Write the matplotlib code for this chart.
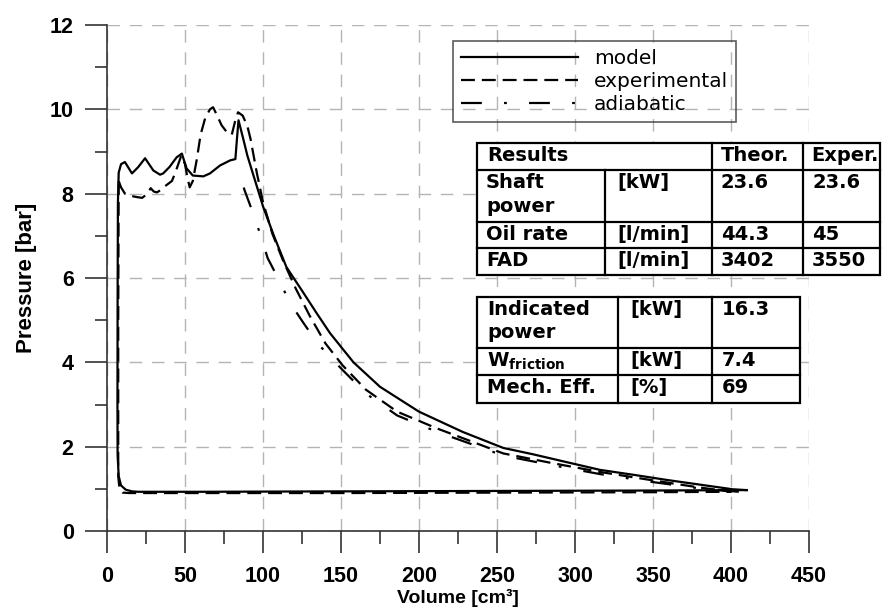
import matplotlib
matplotlib.use("Agg")
import matplotlib.pyplot as plt
from matplotlib.patches import Rectangle
from matplotlib.ticker import MultipleLocator

plt.rcParams['font.family'] = ['Liberation Sans', 'DejaVu Sans']
plt.rcParams['font.weight'] = 'bold'
plt.rcParams['lines.scale_dashes'] = False

# model cycle (volume cm3, pressure bar)
model_v = [410, 401, 380, 359, 338, 316, 295, 273, 254, 228,
           200, 175, 158, 143, 134.5, 125, 115, 107, 100, 95,
           90, 87, 84.3, 83.3, 82.3, 79, 72.5, 66, 61.7, 55,
           51, 48, 44.6, 40, 36, 34, 29.7, 24.4, 20, 16,
           11.5, 9, 7.5, 7, 6.8, 6.7, 6.8, 7.5, 9, 12,
           16, 20, 60, 150, 250, 350, 410]
model_p = [0.97, 0.99, 1.10, 1.21, 1.33, 1.45, 1.63, 1.82, 1.97, 2.35,
           2.83, 3.42, 4.00, 4.69, 5.16, 5.70, 6.26, 7.00, 7.70, 8.30,
           8.90, 9.35, 9.74, 9.30, 8.82, 8.79, 8.67, 8.48, 8.41, 8.43,
           8.60, 8.95, 8.86, 8.63, 8.48, 8.45, 8.55, 8.84, 8.63, 8.48,
           8.75, 8.70, 8.50, 7.80, 5.50, 3.00, 1.80, 1.30, 1.08, 0.98,
           0.94, 0.93, 0.93, 0.94, 0.95, 0.96, 0.97]

# experimental cycle
exp_v = [7.5, 7.2, 7.2, 8, 10, 14, 60, 150, 250, 350, 400,
         395, 380, 350, 316, 284, 254, 211, 186, 166, 151,
         140, 130, 121, 113, 106, 100, 98, 96, 94, 92,
         90, 87, 84, 82, 80, 77, 73.5, 70.5, 68, 66,
         63, 60, 57.5, 55, 53, 51.5, 50, 47.6, 43.6, 41.6,
         38, 35, 32, 30, 28, 26, 22.5, 19, 15, 11.5,
         9, 7.5]
exp_p = [8.30, 5.00, 1.30, 1.00, 0.91, 0.90, 0.90, 0.90, 0.91, 0.92, 0.93,
         0.96, 1.03, 1.20, 1.40, 1.62, 1.84, 2.44, 2.83, 3.35, 3.93,
         4.45, 5.10, 5.75, 6.40, 7.05, 7.80, 8.15, 8.50, 8.90, 9.30,
         9.60, 9.85, 9.93, 9.70, 9.40, 9.45, 9.62, 9.86, 10.05, 10.00,
         9.80, 9.40, 8.80, 8.30, 8.15, 8.40, 8.70, 8.90, 8.48, 8.30,
         8.20, 8.10, 8.03, 8.05, 8.13, 8.00, 7.90, 7.92, 7.95, 8.00,
         8.15, 8.30]

# adiabatic compression
adi_v = [405, 380, 350, 316, 284, 254, 211, 186, 166, 151,
         145, 135, 126, 117, 111, 103, 98, 94, 88, 85]
adi_p = [0.93, 1.01, 1.16, 1.35, 1.57, 1.79, 2.36, 2.74, 3.26, 3.82,
         4.05, 4.45, 4.93, 5.43, 5.90, 6.47, 7.06, 7.50, 8.10, 8.55]

results_header = ["Results", "Theor.", "Exper."]
results_rows = [["Shaft\npower", "[kW]", "23.6", "23.6"],
                ["Oil rate", "[l/min]", "44.3", "45"],
                ["FAD", "[l/min]", "3402", "3550"]]
mech_rows = [["Indicated\npower", "[kW]", "16.3"],
             [r"$\mathbf{W}_{\mathbf{friction}}$", "[kW]", "7.4"],
             ["Mech. Eff.", "[%]", "69"]]

fig = plt.figure(figsize=(8.92, 6.14), dpi=100)
ax = fig.add_axes([107 / 892, 83 / 614, 702 / 892, 506 / 614])

ax.plot(model_v, model_p, color='black', lw=1.6, label='model', zorder=4)
ax.plot(exp_v, exp_p, color='black', lw=1.6, dashes=(10, 5), label='experimental', zorder=3)
ax.plot(adi_v, adi_p, color='black', lw=1.6, dashes=(15, 16, 2, 16), label='adiabatic', zorder=3)

ax.set_xlim(0, 450)
ax.set_ylim(0, 12)
ax.xaxis.set_major_locator(MultipleLocator(50))
ax.xaxis.set_minor_locator(MultipleLocator(25))
ax.yaxis.set_major_locator(MultipleLocator(2))
ax.yaxis.set_minor_locator(MultipleLocator(1))
for s in ['top', 'right']:
    ax.spines[s].set_visible(False)
for s in ['left', 'bottom']:
    ax.spines[s].set_color('#333333')
    ax.spines[s].set_linewidth(1.2)
ax.tick_params(which='major', direction='out', length=16, width=1.2, color='#333333', labelsize=15.5)
ax.tick_params(which='minor', direction='out', length=9, width=1.2, color='#333333')
ax.tick_params(axis='y', which='major', pad=8)
ax.tick_params(axis='x', which='major', pad=9)
ax.grid(True, which='major', color='#b4b4b4', linestyle=(0, (9, 7)), lw=1.0)
ax.set_axisbelow(True)

ax.set_xlabel("Volume [cm³]", fontsize=14, fontweight='bold')
ax.set_ylabel("Pressure [bar]", fontsize=16, fontweight='bold')
ax.xaxis.set_label_coords(0.5, -0.115)
ax.yaxis.set_label_coords(-0.0997, 0.5)

leg = ax.legend(loc='upper left', bbox_to_anchor=(453 / 892, 1 - 41 / 614),
                bbox_transform=fig.transFigure, frameon=True, fancybox=False,
                edgecolor='#333333', handlelength=5.8, handletextpad=0.8,
                labelspacing=0.2, borderpad=0.4, borderaxespad=0,
                prop={'family': 'DejaVu Sans', 'weight': 'normal', 'size': 14.5})
leg.get_frame().set_facecolor('none')
leg.get_frame().set_linewidth(1.2)

# tables, drawn in figure pixel coordinates
ov = fig.add_axes([0, 0, 1, 1], zorder=5)
ov.set_xlim(0, 892)
ov.set_ylim(614, 0)
ov.axis('off')
tfont = dict(family='DejaVu Sans', weight='bold', size=14, va='top', ha='left', linespacing=1.3)

t1_x = [477, 605, 712, 803, 880]
t1_y = [143, 170, 222, 248, 275]
ov.add_patch(Rectangle((t1_x[0], t1_y[0]), t1_x[-1] - t1_x[0], t1_y[-1] - t1_y[0],
                       facecolor='white', edgecolor='black', lw=1.6))
for y in t1_y[1:-1]:
    ov.plot([t1_x[0], t1_x[-1]], [y, y], color='black', lw=1.6)
ov.plot([t1_x[1], t1_x[1]], [t1_y[1], t1_y[-1]], color='black', lw=1.6)
for x in t1_x[2:-1]:
    ov.plot([x, x], [t1_y[0], t1_y[-1]], color='black', lw=1.6)
ov.text(t1_x[0] + 10, t1_y[0] + 3, results_header[0], **tfont)
ov.text(t1_x[2] + 9, t1_y[0] + 3, results_header[1], **tfont)
ov.text(t1_x[3] + 8, t1_y[0] + 3, results_header[2], **tfont)
for i, row in enumerate(results_rows):
    for j, cell in enumerate(row):
        ov.text(t1_x[j] + (12 if j == 1 else 9), t1_y[i + 1] + 3, cell, **tfont)

t2_x = [477, 618, 712, 800]
t2_y = [297, 348, 375, 403]
ov.add_patch(Rectangle((t2_x[0], t2_y[0]), t2_x[-1] - t2_x[0], t2_y[-1] - t2_y[0],
                       facecolor='white', edgecolor='black', lw=1.6))
for y in t2_y[1:-1]:
    ov.plot([t2_x[0], t2_x[-1]], [y, y], color='black', lw=1.6)
for x in t2_x[1:-1]:
    ov.plot([x, x], [t2_y[0], t2_y[-1]], color='black', lw=1.6)
for i, row in enumerate(mech_rows):
    for j, cell in enumerate(row):
        ov.text(t2_x[j] + (12 if j == 1 else 10), t2_y[i] + 3, cell, **tfont)

fig.savefig("out.png", dpi=100)
